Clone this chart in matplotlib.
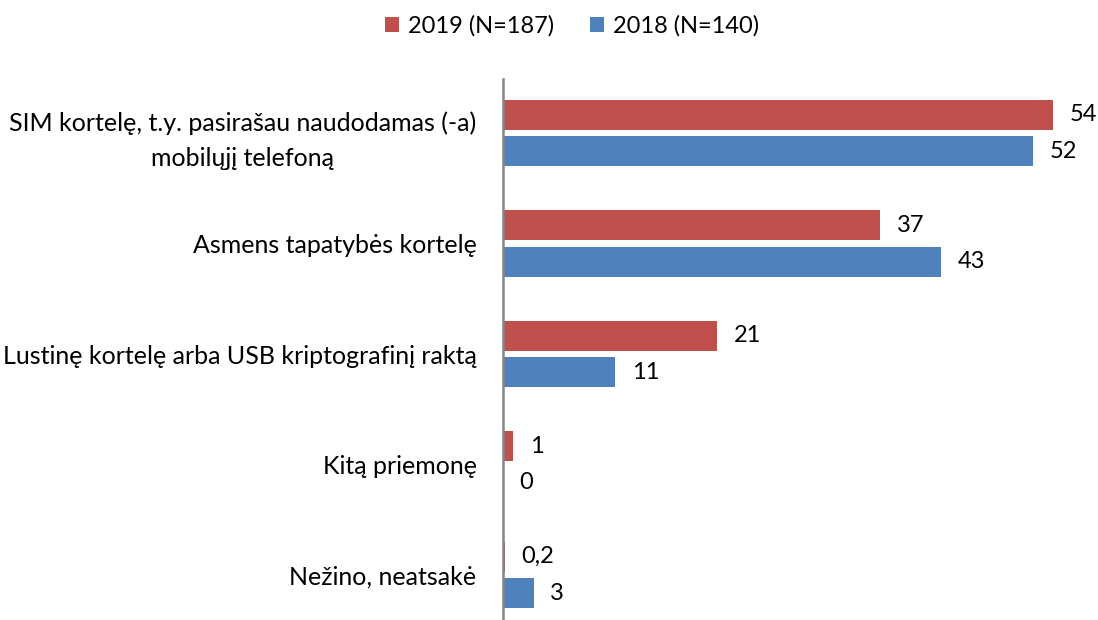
import numpy as np
import matplotlib
matplotlib.use("Agg")
import matplotlib.pyplot as plt

plt.rcParams['font.family'] = ['Lato', 'DejaVu Sans']

categories = ["SIM kortelę, t.y. pasirašau naudodamas (-a)\nmobilųjį telefoną",
              "Asmens tapatybės kortelę",
              "Lustinę kortelę arba USB kriptografinį raktą",
              "Kitą priemonę",
              "Nežino, neatsakė"]
vals_2019 = [54, 37, 21, 1, 0.2]
vals_2018 = [52, 43, 11, 0, 3]
series_names = ["2019 (N=187)", "2018 (N=140)"]

red = "#C0504D"
blue = "#4F81BD"

fig = plt.figure(figsize=(10.98, 6.2), dpi=100)
ax = fig.add_axes([503 / 1098, 0, 595 / 1098, 541 / 620])

y = np.arange(len(categories))
h = 0.27
off = 0.165

b1 = ax.barh(y - off, vals_2019, height=h, color=red, label=series_names[0])
b2 = ax.barh(y + off, vals_2018, height=h, color=blue, label=series_names[1])

def fmt(v):
    s = ("%g" % v).replace(".", ",")
    return s

for bars, vals in [(b1, vals_2019), (b2, vals_2018)]:
    for bar, v in zip(bars, vals):
        ax.annotate(fmt(v), (bar.get_width(), bar.get_y() + bar.get_height() / 2),
                    xytext=(12, 0), textcoords="offset points",
                    ha="left", va="center", fontsize=17, color="black")

ax.set_xlim(0, 58.4)
ax.set_ylim(4.407, -0.489)
ax.set_yticks(y)
ax.set_yticklabels(categories, fontsize=18)
for lbl in ax.get_yticklabels():
    lbl.set_multialignment("center")
    lbl.set_linespacing(1.6)
ax.tick_params(axis="y", length=0, pad=19)
ax.set_xticks([])
for s in ["top", "right", "bottom"]:
    ax.spines[s].set_visible(False)
ax.spines["left"].set_color("#868686")
ax.spines["left"].set_linewidth(1.8)

fig.legend(handles=[b1, b2], loc="center", bbox_to_anchor=(572 / 1098, 1 - 26 / 620),
           ncol=2, frameon=False, fontsize=17, handlelength=0.6, handleheight=0.6,
           handletextpad=0.4, columnspacing=1.5)

fig.savefig("out.png", dpi=100)
